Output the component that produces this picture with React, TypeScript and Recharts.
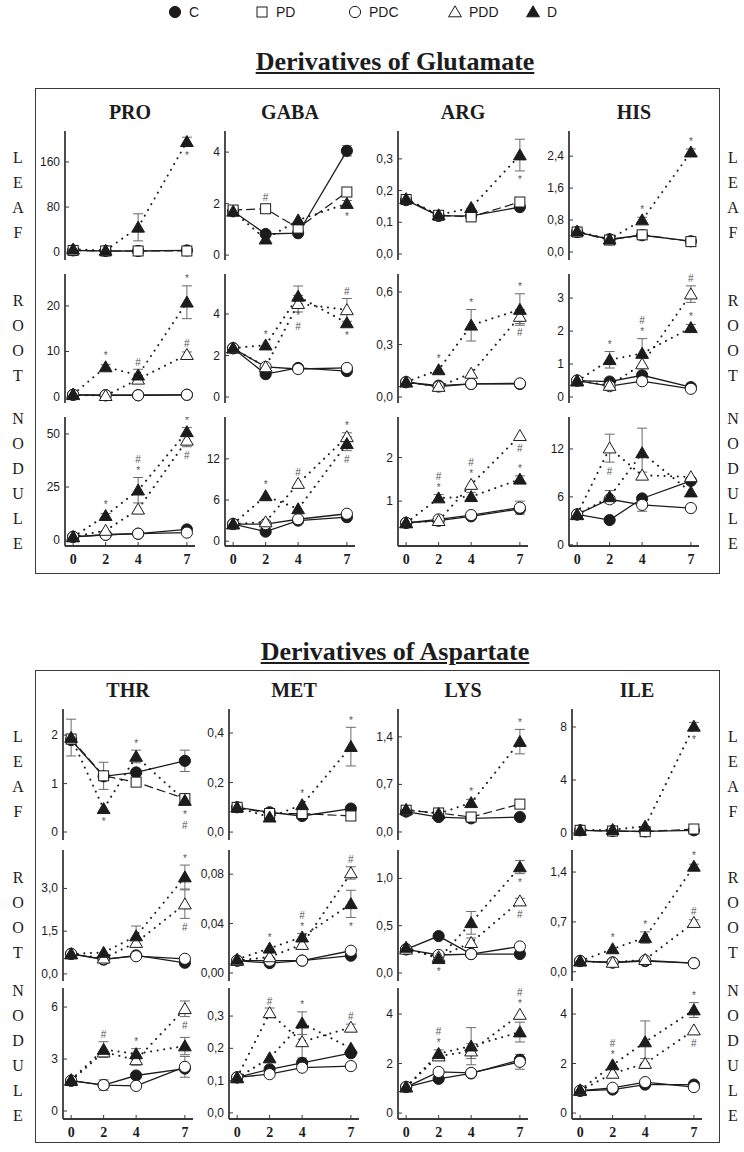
import { LineChart, Line, XAxis, YAxis, ErrorBar } from "recharts";

const SANS = "'Liberation Sans', Arial, sans-serif";
const SERIF = "'Liberation Serif', 'Times New Roman', serif";
const INK = "#1c1c1c";
const FRAME = "#3a3a3a";
const NOTE = "#555555";

const DAYS = [0, 2, 4, 7];
const SERIES = ["C", "PD", "PDC", "PDD", "D"];
const ROW_NAMES = ["LEAF", "ROOT", "NODULE"];
const GLU_TITLES = ["PRO", "GABA", "ARG", "HIS"];
const ASP_TITLES = ["THR", "MET", "LYS", "ILE"];

// not plotted for that organ
const NONE = [null, null, null, null];

// each block: rows C, PD, PDC, PDD, D  -  columns day 0, 2, 4, 7
// err = SE per series, sig = "^" above / "v" below + symbols top to bottom
const PRO_LEAF = [[3, 2, 2, 3], [3, 2, 2, 2], NONE, NONE, [5, 3, 44, 196]];
const PRO_LEAF_ERR = { D: [0, 0, 24, 8] };
const PRO_LEAF_SIG = { D: ["", "", "", "v*"] };

const GABA_LEAF = [[1.7, 0.82, 0.85, 4.05], [1.75, 1.8, 1.05, 2.45], NONE, NONE, [1.7, 0.62, 1.36, 2.0]];
const GABA_LEAF_ERR = { C: [0.1, 0, 0, 0.2], PD: [0, 0.1, 0, 0], D: [0, 0, 0, 0.12] };
const GABA_LEAF_SIG = { PD: ["", "^#", "", ""], D: ["", "", "", "v*"] };

const ARG_LEAF = [[0.17, 0.12, 0.12, 0.148], [0.172, 0.122, 0.117, 0.164], NONE, NONE, [0.174, 0.123, 0.146, 0.312]];
const ARG_LEAF_ERR = { D: [0, 0.01, 0, 0.05] };
const ARG_LEAF_SIG = { D: ["", "", "", "v*"] };

const HIS_LEAF = [[0.5, 0.32, 0.42, 0.27], [0.5, 0.3, 0.43, 0.26], NONE, NONE, [0.52, 0.32, 0.8, 2.5]];
const HIS_LEAF_ERR = { D: [0.05, 0.05, 0.07, 0.08] };
const HIS_LEAF_SIG = { D: ["", "", "^*", "^*"] };

const PRO_ROOT = [[0.5, 0.4, 0.4, 0.5], NONE, [0.5, 0.4, 0.4, 0.5], [0.5, 0.3, 3.9, 9.3], [0.6, 6.6, 4.8, 20.8]];
const PRO_ROOT_ERR = { PDD: [0, 0, 0.8, 0.6], D: [0, 0.5, 1.3, 3.6] };
const PRO_ROOT_SIG = { PDD: ["", "", "", "^#"], D: ["", "^*", "^#", "^*"] };

const GABA_ROOT = [[2.35, 1.1, 1.4, 1.25], NONE, [2.35, 1.45, 1.35, 1.4], [2.35, 1.45, 4.5, 4.2], [2.36, 2.5, 4.85, 3.57]];
const GABA_ROOT_ERR = { PDD: [0, 0, 0.4, 0.55], D: [0, 0, 0.5, 0] };
const GABA_ROOT_SIG = { PDD: ["", "", "", "^#"], D: ["", "^*", "v*#", "v*"] };

const ARG_ROOT = [[0.085, 0.065, 0.075, 0.075], NONE, [0.085, 0.06, 0.075, 0.078], [0.085, 0.06, 0.135, 0.46], [0.086, 0.155, 0.41, 0.5]];
const ARG_ROOT_ERR = { PDD: [0, 0, 0, 0.04], D: [0, 0, 0.09, 0.09] };
const ARG_ROOT_SIG = { PDD: ["", "", "", "v#"], D: ["", "^*", "^*", "^*"] };

const HIS_ROOT = [[0.5, 0.47, 0.66, 0.3], NONE, [0.5, 0.33, 0.48, 0.25], [0.5, 0.35, 1.0, 3.12], [0.48, 1.13, 1.32, 2.1]];
const HIS_ROOT_ERR = { PDD: [0, 0, 0, 0.25], D: [0, 0.25, 0.45, 0.1] };
const HIS_ROOT_SIG = { PDD: ["", "", "", "^#"], D: ["", "^*", "^#*", "^*"] };

const PRO_NOD = [[1.5, 2.5, 3, 5], NONE, [1.5, 2.5, 3, 3.5], [1.5, 4.5, 14.5, 47], [1.5, 11.5, 23.5, 51]];
const PRO_NOD_ERR = { PDD: [0, 0, 0, 3], D: [0, 1, 6, 2] };
const PRO_NOD_SIG = { PDD: ["", "", "", "v#"], D: ["", "^*", "^#*", "^*"] };

const GABA_NOD = [[2.5, 1.4, 3.0, 3.5], NONE, [2.5, 2.5, 3.2, 4.0], [2.5, 2.8, 8.4, 15.2], [2.5, 6.6, 4.7, 14.2]];
const GABA_NOD_ERR = { PDD: [0, 0, 0, 0.6], D: [0, 0, 0, 1.0] };
const GABA_NOD_SIG = { PDD: ["", "", "^#", "^*"], D: ["", "^*", "", "v#"] };

const ARG_NOD = [[0.5, 0.55, 0.65, 0.82], NONE, [0.5, 0.58, 0.68, 0.85], [0.5, 0.55, 1.38, 2.5], [0.5, 1.07, 1.1, 1.5]];
const ARG_NOD_ERR = { PDC: [0, 0, 0, 0.15], D: [0, 0.08, 0.1, 0.08] };
const ARG_NOD_SIG = { PDD: ["", "", "^#*", "v#"], D: ["", "^#*", "", "^*"] };

const HIS_NOD = [[3.8, 3.1, 5.8, 8.0], NONE, [3.8, 5.7, 5.0, 4.6], [3.8, 12.1, 8.7, 8.5], [3.75, 6.0, 11.5, 6.6]];
const HIS_NOD_ERR = { PDC: [0, 0, 0.8, 0], PDD: [0, 1.75, 0.4, 0], D: [0, 0.8, 3.1, 0] };
const HIS_NOD_SIG = { PDD: ["", "v#", "", ""] };

const THR_LEAF = [[1.9, 1.15, 1.23, 1.47], [1.92, 1.16, 1.03, 0.69], NONE, NONE, [1.95, 0.48, 1.56, 0.65]];
const THR_LEAF_ERR = { C: [0, 0, 0, 0.22], PD: [0, 0.28, 0, 0], D: [0.38, 0, 0.13, 0.1] };
const THR_LEAF_SIG = { D: ["", "v*", "^*", "v*#"] };

const MET_LEAF = [[0.1, 0.08, 0.065, 0.095], [0.1, 0.075, 0.075, 0.065], NONE, NONE, [0.1, 0.06, 0.11, 0.345]];
const MET_LEAF_ERR = { D: [0, 0, 0, 0.078] };
const MET_LEAF_SIG = { D: ["", "", "^*", "^*"] };

const LYS_LEAF = [[0.3, 0.22, 0.2, 0.22], [0.32, 0.28, 0.22, 0.41], NONE, NONE, [0.33, 0.27, 0.43, 1.33]];
const LYS_LEAF_ERR = { D: [0, 0, 0.05, 0.18] };
const LYS_LEAF_SIG = { D: ["", "", "^*", "^*"] };

const ILE_LEAF = [[0.2, 0.15, 0.12, 0.2], [0.2, 0.15, 0.1, 0.3], NONE, NONE, [0.2, 0.25, 0.5, 8.05]];
const ILE_LEAF_ERR = { D: [0, 0, 0, 0.3] };
const ILE_LEAF_SIG = { D: ["", "", "", "v*"] };

const THR_ROOT = [[0.7, 0.5, 0.65, 0.39], NONE, [0.7, 0.52, 0.62, 0.53], [0.7, 0.55, 1.1, 2.45], [0.7, 0.75, 1.33, 3.4]];
const THR_ROOT_ERR = { PDD: [0, 0, 0.15, 0.5], D: [0, 0, 0.35, 0.42] };
const THR_ROOT_SIG = { PDD: ["", "", "", "v#"], D: ["", "", "", "^*"] };

const MET_ROOT = [[0.01, 0.008, 0.01, 0.014], NONE, [0.01, 0.01, 0.01, 0.018], [0.01, 0.013, 0.023, 0.081], [0.011, 0.02, 0.029, 0.056]];
const MET_ROOT_ERR = { PDD: [0, 0, 0, 0.005], D: [0, 0, 0.003, 0.011] };
const MET_ROOT_SIG = { PDD: ["", "", "", "^#"], D: ["", "^*", "^#*", "v*"] };

const LYS_ROOT = [[0.25, 0.39, 0.2, 0.2], NONE, [0.25, 0.19, 0.2, 0.28], [0.25, 0.17, 0.32, 0.76], [0.27, 0.15, 0.53, 1.12]];
const LYS_ROOT_ERR = { PDD: [0, 0, 0.05, 0.03], D: [0, 0, 0.12, 0.07] };
const LYS_ROOT_SIG = { PDD: ["", "", "", "v#"], D: ["", "v*", "", "v*"] };

const ILE_ROOT = [[0.15, 0.13, 0.15, 0.12], NONE, [0.15, 0.13, 0.16, 0.12], [0.15, 0.13, 0.17, 0.69], [0.15, 0.32, 0.48, 1.48]];
const ILE_ROOT_ERR = { PDD: [0, 0, 0, 0.04], D: [0, 0, 0.08, 0.03] };
const ILE_ROOT_SIG = { PDD: ["", "", "", "^#"], D: ["", "^*", "^*", "^*"] };

const THR_NOD = [[1.75, 1.5, 2.05, 2.45], NONE, [1.75, 1.5, 1.45, 2.55], [1.75, 3.4, 2.95, 5.9], [1.8, 3.55, 3.3, 3.75]];
const THR_NOD_ERR = { PDC: [0, 0.3, 0, 0.6], PDD: [0, 0, 0.3, 0.45], D: [0, 0.45, 0.3, 0.5] };
const THR_NOD_SIG = { PDD: ["", "", "", "v#"], D: ["", "^#", "^*", ""] };

const MET_NOD = [[0.11, 0.135, 0.155, 0.185], NONE, [0.11, 0.12, 0.14, 0.145], [0.11, 0.31, 0.22, 0.265], [0.108, 0.17, 0.278, 0.2]];
const MET_NOD_ERR = { PDD: [0, 0.015, 0.05, 0.01], D: [0, 0, 0.035, 0] };
const MET_NOD_SIG = { PDD: ["", "^#", "", "^#"], D: ["", "", "^*", ""] };

const LYS_NOD = [[1.05, 1.38, 1.6, 2.15], NONE, [1.05, 1.66, 1.62, 2.07], [1.05, 2.3, 2.5, 3.98], [1.05, 2.4, 2.7, 3.27]];
const LYS_NOD_ERR = { PDC: [0, 0, 0, 0.3], PDD: [0, 0, 0.3, 0], D: [0, 0.15, 0.75, 0.4] };
const LYS_NOD_SIG = { PDD: ["", "", "", "^#*"], D: ["", "^#*", "", ""] };

const ILE_NOD = [[0.9, 0.95, 1.15, 1.15], NONE, [0.9, 1.02, 1.25, 1.05], [0.9, 1.6, 2.0, 3.35], [0.93, 1.94, 2.87, 4.16]];
const ILE_NOD_ERR = { PDD: [0, 0, 0.2, 0], D: [0, 0, 0.85, 0.3] };
const ILE_NOD_SIG = { PDD: ["", "", "", "v#"], D: ["", "^#*", "", "^*"] };

type Spec = {
  v: (number | null)[][];
  e: Record<string, number[]>;
  s: Record<string, string[]>;
  ticks: string[];
  domain: [number, number];
};

const GLU_PANELS: Spec[][] = [
  [
    { v: PRO_LEAF, e: PRO_LEAF_ERR, s: PRO_LEAF_SIG, ticks: ["0", "80", "160"], domain: [-14, 215] },
    { v: GABA_LEAF, e: GABA_LEAF_ERR, s: GABA_LEAF_SIG, ticks: ["0", "2", "4"], domain: [-0.19, 4.82] },
    { v: ARG_LEAF, e: ARG_LEAF_ERR, s: ARG_LEAF_SIG, ticks: ["0,0", "0,1", "0,2", "0,3"], domain: [-0.019, 0.388] },
    { v: HIS_LEAF, e: HIS_LEAF_ERR, s: HIS_LEAF_SIG, ticks: ["0,0", "0,8", "1,6", "2,4"], domain: [-0.2, 3.03] },
  ],
  [
    { v: PRO_ROOT, e: PRO_ROOT_ERR, s: PRO_ROOT_SIG, ticks: ["0", "10", "20"], domain: [-1.3, 27] },
    { v: GABA_ROOT, e: GABA_ROOT_ERR, s: GABA_ROOT_SIG, ticks: ["0", "2", "4"], domain: [-0.29, 5.93] },
    { v: ARG_ROOT, e: ARG_ROOT_ERR, s: ARG_ROOT_SIG, ticks: ["0,0", "0,3", "0,6"], domain: [-0.034, 0.703] },
    { v: HIS_ROOT, e: HIS_ROOT_ERR, s: HIS_ROOT_SIG, ticks: ["0", "1", "2", "3"], domain: [-0.18, 3.73] },
  ],
  [
    { v: PRO_NOD, e: PRO_NOD_ERR, s: PRO_NOD_SIG, ticks: ["0", "25", "50"], domain: [-2.8, 58] },
    { v: GABA_NOD, e: GABA_NOD_ERR, s: GABA_NOD_SIG, ticks: ["0", "6", "12"], domain: [-0.7, 18.1] },
    { v: ARG_NOD, e: ARG_NOD_ERR, s: ARG_NOD_SIG, ticks: ["1", "2"], domain: [-0.03, 2.93] },
    { v: HIS_NOD, e: HIS_NOD_ERR, s: HIS_NOD_SIG, ticks: ["0", "6", "12"], domain: [-0.15, 16] },
  ],
];

const ASP_PANELS: Spec[][] = [
  [
    { v: THR_LEAF, e: THR_LEAF_ERR, s: THR_LEAF_SIG, ticks: ["0", "1", "2"], domain: [-0.165, 2.54] },
    { v: MET_LEAF, e: MET_LEAF_ERR, s: MET_LEAF_SIG, ticks: ["0,0", "0,2", "0,4"], domain: [-0.032, 0.497] },
    { v: LYS_LEAF, e: LYS_LEAF_ERR, s: LYS_LEAF_SIG, ticks: ["0,0", "0,7", "1,4"], domain: [-0.118, 1.81] },
    { v: ILE_LEAF, e: ILE_LEAF_ERR, s: ILE_LEAF_SIG, ticks: ["0", "4", "8"], domain: [-0.53, 9.36] },
  ],
  [
    { v: THR_ROOT, e: THR_ROOT_ERR, s: THR_ROOT_SIG, ticks: ["0,0", "1,5", "3,0"], domain: [-0.25, 4.35] },
    { v: MET_ROOT, e: MET_ROOT_ERR, s: MET_ROOT_SIG, ticks: ["0,00", "0,04", "0,08"], domain: [-0.0065, 0.0996] },
    { v: LYS_ROOT, e: LYS_ROOT_ERR, s: LYS_ROOT_SIG, ticks: ["0,0", "0,5", "1,0"], domain: [-0.085, 1.3] },
    { v: ILE_ROOT, e: ILE_ROOT_ERR, s: ILE_ROOT_SIG, ticks: ["0,0", "0,7", "1,4"], domain: [-0.13, 1.71] },
  ],
  [
    { v: THR_NOD, e: THR_NOD_ERR, s: THR_NOD_SIG, ticks: ["0", "3", "6"], domain: [-0.46, 7.1] },
    { v: MET_NOD, e: MET_NOD_ERR, s: MET_NOD_SIG, ticks: ["0,0", "0,1", "0,2", "0,3"], domain: [-0.019, 0.387] },
    { v: LYS_NOD, e: LYS_NOD_ERR, s: LYS_NOD_SIG, ticks: ["0", "2", "4"], domain: [-0.24, 5.05] },
    { v: ILE_NOD, e: ILE_NOD_ERR, s: ILE_NOD_SIG, ticks: ["0", "2", "4"], domain: [-0.24, 5.05] },
  ],
];

const X_DOMAIN: [number, number] = [-0.5, 7.5];
const PLOT_W = 130;
const LW = 40;
const PAD = 12;

function Marker({ kind, cx, cy }: { kind: string; cx: number; cy: number }) {
  const filled = kind === "C" || kind === "D";
  const fill = filled ? INK : "#fff";
  if (kind === "C" || kind === "PDC") {
    return <circle cx={cx} cy={cy} r={5.6} fill={fill} stroke={INK} strokeWidth={1} />;
  }
  if (kind === "PD") {
    return <rect x={cx - 5} y={cy - 5} width={10} height={10} fill="#fff" stroke={INK} strokeWidth={1} />;
  }
  const pts = `${cx},${cy - 6.2} ${cx + 6.4},${cy + 4.8} ${cx - 6.4},${cy + 4.8}`;
  return <polygon points={pts} fill={fill} stroke={INK} strokeWidth={1} />;
}

function lineStyle(kind: string) {
  if (kind === "PD") return { strokeDasharray: "9 4", strokeWidth: 1.2 };
  if (kind === "PDD" || kind === "D") return { strokeDasharray: "0.1 6.5", strokeWidth: 2, strokeLinecap: "round" as const };
  return { strokeWidth: 1.3 };
}

function Panel({ spec, left, top, plotH, showX }: { spec: Spec; left: number; top: number; plotH: number; showX: boolean }) {
  const tickVals = spec.ticks.map((t) => parseFloat(t.replace(",", ".")));
  const ppu = plotH / (spec.domain[1] - spec.domain[0]);
  const data = DAYS.map((day, i) => {
    const row: Record<string, number | string | null> = { day };
    SERIES.forEach((s, k) => {
      row[s] = spec.v[k][i];
      row[s + "_e"] = spec.e[s] ? spec.e[s][i] : 0;
      row[s + "_s"] = spec.s[s] ? spec.s[s][i] : "";
    });
    return row;
  });
  const xh = showX ? 22 : 0;
  const present = SERIES.filter((_, k) => spec.v[k].some((x) => x != null));

  const dot = (s: string) => (p: any) => {
    const { cx, cy, index, payload } = p;
    if (cx == null || cy == null || payload[s] == null) return <g key={`${s}-${index}`} />;
    const sig: string = payload[s + "_s"] || "";
    const err = Number(payload[s + "_e"]) || 0;
    const off = Math.max(11, err * ppu + 7);
    const above = sig[0] === "^";
    const chars = sig.slice(1).split("");
    return (
      <g key={`${s}-${index}`}>
        <Marker kind={s} cx={cx} cy={cy} />
        {chars.map((ch, k) => (
          <text
            key={k}
            x={cx}
            y={above ? cy - off - (chars.length - 1 - k) * 11 : cy + off + 2 + k * 11}
            textAnchor="middle"
            dominantBaseline="central"
            fontSize={10}
            fontFamily={SANS}
            fill={NOTE}
          >
            {ch}
          </text>
        ))}
      </g>
    );
  };

  const tickLeft = (p: any) => {
    const i = tickVals.indexOf(p.payload.value);
    return (
      <g>
        <line x1={p.x} y1={p.y} x2={p.x + 4} y2={p.y} stroke={FRAME} />
        <text x={p.x - 5} y={p.y} textAnchor="end" dominantBaseline="central" fontSize={12} fontFamily={SANS} fill={INK}>
          {spec.ticks[i]}
        </text>
      </g>
    );
  };
  const tickRight = (p: any) => <line x1={p.x} y1={p.y} x2={p.x - 4} y2={p.y} stroke={FRAME} />;
  const tickTop = (p: any) => <line x1={p.x} y1={p.y} x2={p.x} y2={p.y + 4} stroke={FRAME} />;
  const tickBottom = (p: any) => (
    <g>
      <line x1={p.x} y1={p.y} x2={p.x} y2={p.y - 4} stroke={FRAME} />
      {showX && (
        <text x={p.x} y={p.y + 13} textAnchor="middle" dominantBaseline="central" fontSize={14} fontWeight="bold" fontFamily={SERIF} fill={INK}>
          {p.payload.value}
        </text>
      )}
    </g>
  );
  const frame = { stroke: FRAME, strokeWidth: 1.8 };

  return (
    <div style={{ position: "absolute", left: left - LW, top: top - PAD }}>
      <LineChart
        width={LW + PLOT_W + PAD}
        height={PAD + plotH + PAD + xh}
        data={data}
        margin={{ top: PAD, right: PAD, bottom: PAD, left: 0 }}
      >
        <XAxis xAxisId="b" dataKey="day" type="number" domain={X_DOMAIN} ticks={DAYS} interval={0} allowDataOverflow height={xh} tickSize={0} tickMargin={0} tickLine={false} axisLine={frame} tick={tickBottom} />
        <XAxis xAxisId="t" orientation="top" dataKey="day" type="number" domain={X_DOMAIN} ticks={DAYS} interval={0} allowDataOverflow height={0} tickSize={0} tickMargin={0} tickLine={false} axisLine={frame} tick={tickTop} />
        <YAxis yAxisId="l" type="number" domain={spec.domain} ticks={tickVals} interval={0} allowDataOverflow width={LW} tickSize={0} tickMargin={0} tickLine={false} axisLine={frame} tick={tickLeft} />
        <YAxis yAxisId="r" orientation="right" type="number" domain={spec.domain} ticks={tickVals} interval={0} allowDataOverflow width={0} tickSize={0} tickMargin={0} tickLine={false} axisLine={frame} tick={tickRight} />
        {present.map((s) => (
          <Line
            key={s}
            xAxisId="b"
            yAxisId="l"
            dataKey={s}
            type="linear"
            stroke={INK}
            {...lineStyle(s)}
            dot={dot(s)}
            activeDot={false}
            isAnimationActive={false}
          >
            {spec.e[s] && <ErrorBar dataKey={s + "_e"} direction="y" width={5} stroke="#6a6a6a" strokeWidth={1} />}
          </Line>
        ))}
      </LineChart>
    </div>
  );
}

function Section({
  title,
  titleX,
  titleY,
  box,
  cols,
  rows,
  plotH,
  titles,
  panels,
}: {
  title: string;
  titleX: number;
  titleY: number;
  box: [number, number, number, number];
  cols: number[];
  rows: number[];
  plotH: number;
  titles: string[];
  panels: Spec[][];
}) {
  const letters = (r: number, x: number) => {
    const word = ROW_NAMES[r];
    const mid = rows[r] + plotH / 2;
    return word.split("").map((ch, i) => (
      <div
        key={`${x}-${r}-${i}`}
        style={{
          position: "absolute",
          left: x - 10,
          width: 20,
          top: mid + (i - (word.length - 1) / 2) * 25 - 10,
          height: 20,
          lineHeight: "20px",
          textAlign: "center",
          fontFamily: SERIF,
          fontSize: 16,
          color: INK,
        }}
      >
        {ch}
      </div>
    ));
  };
  return (
    <>
      <div
        style={{
          position: "absolute",
          left: titleX - 250,
          width: 500,
          top: titleY - 16,
          height: 32,
          lineHeight: "32px",
          textAlign: "center",
          fontFamily: SERIF,
          fontWeight: "bold",
          fontSize: 26,
          textDecoration: "underline",
          color: INK,
        }}
      >
        {title}
      </div>
      <div
        style={{
          position: "absolute",
          left: box[0],
          top: box[1],
          width: box[2] - box[0],
          height: box[3] - box[1],
          border: `1.5px solid ${FRAME}`,
          boxSizing: "border-box",
        }}
      />
      {titles.map((t, c) => (
        <div
          key={t}
          style={{
            position: "absolute",
            left: cols[c] - 20,
            width: PLOT_W + 40,
            top: rows[0] - 31,
            height: 24,
            lineHeight: "24px",
            textAlign: "center",
            fontFamily: SERIF,
            fontWeight: "bold",
            fontSize: 20,
            color: INK,
          }}
        >
          {t}
        </div>
      ))}
      {rows.map((_, r) => letters(r, 18))}
      {rows.map((_, r) => letters(r, 733))}
      {panels.map((row, r) =>
        row.map((spec, c) => (
          <Panel key={`${r}-${c}`} spec={spec} left={cols[c]} top={rows[r]} plotH={plotH} showX={r === rows.length - 1} />
        ))
      )}
    </>
  );
}

const LEGEND_X = [175, 262, 355, 455, 533];

function Legend() {
  return (
    <>
      {SERIES.map((s, i) => (
        <div key={s} style={{ position: "absolute", left: LEGEND_X[i] - 8, top: 3, height: 18, display: "flex", alignItems: "center" }}>
          <svg width={16} height={16}>
            <Marker kind={s} cx={8} cy={8} />
          </svg>
          <span style={{ marginLeft: 6, fontFamily: SANS, fontSize: 14, color: INK }}>{s}</span>
        </div>
      ))}
    </>
  );
}

export default function App() {
  return (
    <div style={{ position: "absolute", left: 0, top: 0, width: 744, height: 1152, background: "#fff" }}>
      <Legend />
      <Section
        title="Derivatives of Glutamate"
        titleX={395}
        titleY={62}
        box={[35, 88, 720, 574]}
        cols={[65, 225, 398, 569]}
        rows={[131, 274, 417]}
        plotH={129}
        titles={GLU_TITLES}
        panels={GLU_PANELS}
      />
      <Section
        title="Derivatives of Aspartate"
        titleX={395}
        titleY={652}
        box={[35, 670, 720, 1143]}
        cols={[63, 229, 398, 572]}
        rows={[709, 850, 988]}
        plotH={131}
        titles={ASP_TITLES}
        panels={ASP_PANELS}
      />
    </div>
  );
}
